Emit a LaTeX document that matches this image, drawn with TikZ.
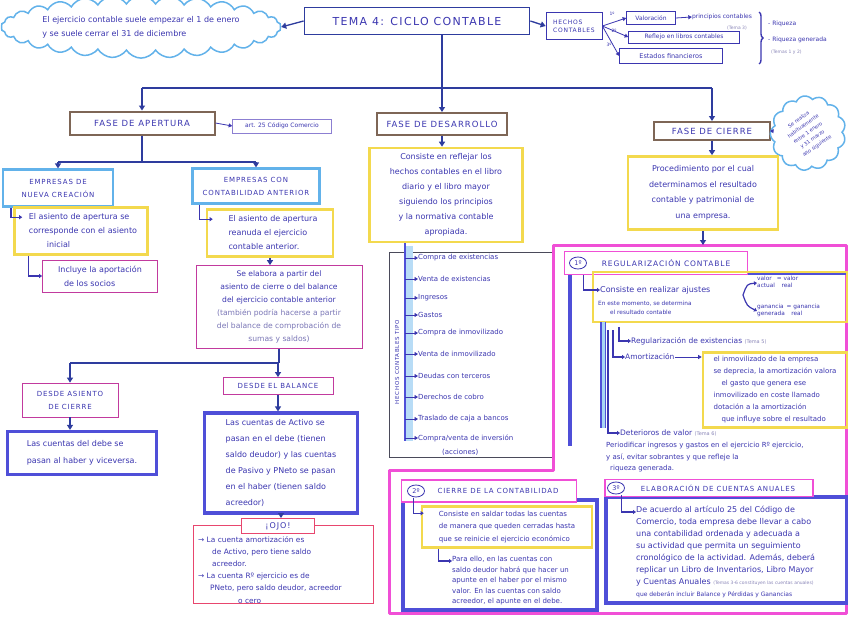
\documentclass[tikz,border=0pt]{standalone}
\usepackage{fontspec}
\setmainfont{DejaVu Sans}
\newfontfamily\capsfont[LetterSpace=12]{DejaVu Sans}
\usetikzlibrary{shapes.symbols,shapes.geometric,arrows.meta,calc,decorations.pathreplacing}
\definecolor{ink}{HTML}{3B36B0}
\definecolor{navy}{HTML}{2E3C9E}
\definecolor{bluem}{HTML}{4F4FD8}
\definecolor{cyanm}{HTML}{62B2EA}
\definecolor{yelm}{HTML}{F3D94E}
\definecolor{magm}{HTML}{F04FD6}
\definecolor{magt}{HTML}{C23A9E}
\definecolor{brownm}{HTML}{7E6656}
\definecolor{redm}{HTML}{E8466E}
\definecolor{lilac}{HTML}{8C7FD2}
\definecolor{greyink}{HTML}{8A86B8}
\definecolor{boxgrey}{HTML}{4A4A5A}
\newcommand{\myfs}[2]{\fontsize{#1}{#2}\selectfont}
\begin{document}
\begin{tikzpicture}[x=1pt,y={(0pt,-1pt)},
  sz/.style 2 args={minimum width=#1pt,minimum height=#2pt,inner sep=0pt},
  line/.style={draw=navy,line width=1.3pt},
  arr/.style={line,-{Triangle[length=5pt,width=6pt]}},
  tarr/.style={draw=ink,line width=0.8pt,-{Triangle[length=3.5pt,width=4pt]}},
  larr/.style={draw=ink,line width=1.3pt,-{Triangle[length=3pt,width=4pt]}},
  tx/.style={inner sep=0pt,text=ink,align=left},
  brownbox/.style={draw=brownm,line width=2pt,fill=white,text=ink,font=\capsfont\myfs{8.5}{10}},
  cyanbox/.style={draw=cyanm,line width=2.2pt,text=ink,font=\capsfont\myfs{7}{13},align=center},
  yelbox/.style={draw=yelm,line width=2.6pt,text=ink,font=\myfs{8}{14}},
  magbox/.style={draw=magt,line width=0.8pt,text=ink},
  bluebox/.style={draw=bluem,line width=3.2pt,text=ink},
  tabbox/.style={draw=magm,line width=1.6pt,fill=white,text=ink,font=\capsfont\myfs{7}{9}},
  num/.style={draw=ink,ellipse,line width=0.8pt,minimum width=17pt,minimum height=12pt,inner sep=0pt,font=\myfs{6.5}{7},text=ink}
]
\useasboundingbox (0,0) rectangle (848,616);
\fill[white] (0,0) rectangle (848,616);

% ---------- top ----------
\node[cloud, cloud puffs=30, cloud puff arc=115, aspect=6, draw=cyanm, line width=1.5pt,
      minimum width=276pt, minimum height=44pt, tx, font=\myfs{8}{14}] (cloudA) at (141,27)
  {El ejercicio contable suele empezar el 1 de enero\\y se suele cerrar el 31 de diciembre};
\node[draw=navy,line width=1.8pt,sz={225}{27},text=ink,font=\capsfont\myfs{11}{12}] (title) at (417,21) {TEMA 4: CICLO CONTABLE};
\node[draw=ink,line width=0.7pt,sz={56}{27},text=ink,align=left,font=\capsfont\myfs{6}{8}] (hechos) at (574,26) {HECHOS\\CONTABLES};
\node[draw=ink,line width=0.6pt,sz={49}{13},text=ink,font=\myfs{6}{7}] (val) at (651,18) {Valoración};
\node[draw=ink,line width=0.6pt,sz={111}{12},text=ink,font=\myfs{6}{7}] (refl) at (684,37) {Reflejo en libros contables};
\node[draw=ink,line width=0.6pt,sz={103}{15},text=ink,font=\myfs{6.5}{7}] (est) at (671,56) {Estados financieros};
\node[tx,font=\myfs{6}{7}] (prin) at (722,17) {principios contables};
\node[tx,text=greyink,font=\myfs{4.5}{5}] (tema3) at (737,28) {(Tema 3)};
\node[tx,anchor=west,font=\myfs{6}{7}] (riq) at (768,24) {- Riqueza};
\node[tx,anchor=west,font=\myfs{6}{7}] (riqg) at (768,40) {- Riqueza generada};
\node[tx,anchor=west,text=greyink,font=\myfs{4.5}{5}] (tema12) at (771,52) {(Temas 1 y 2)};
\node[tx,font=\myfs{4.5}{5}] (l1) at (612,14) {1º};
\node[tx,font=\myfs{4.5}{5}] (l2) at (614,31) {2º};
\node[tx,font=\myfs{4.5}{5}] (l3) at (609,45) {3º};
\draw[draw=ink,line width=1.4pt,decorate,decoration={brace,amplitude=4pt}] (759,12) -- (759,64);

\draw[arr] (title.west) -- (cloudA.east);
\draw[arr] (title.east) -- (hechos.west);
\draw[tarr] (hechos.east) -- (val.west);
\draw[tarr] (hechos.east) -- (refl.west);
\draw[tarr] (hechos.east) -- (est.west);
\draw[tarr] (val.east) -- (prin.west);

% ---------- phases ----------
\node[brownbox,sz={145}{23}] (apertura) at (142,123) {FASE DE APERTURA};
\node[draw=lilac,line width=0.6pt,sz={99}{14},text=ink,font=\myfs{6}{7}] (art) at (282,126) {art. 25 Código Comercio};
\node[brownbox,sz={130}{22}] (desarrollo) at (442,124) {FASE DE DESARROLLO};
\node[brownbox,sz={116}{18}] (cierre) at (712,131) {FASE DE CIERRE};
\node[cloud, cloud puffs=13, cloud puff arc=120, aspect=1, draw=cyanm, line width=1.5pt,
      minimum width=76pt, minimum height=74pt, inner sep=0pt, text=ink, align=center,
      font=\myfs{5}{8}, rotate=35] (cloudB) at (808,133)
  {Se realiza\\habitualmente\\entre 1 enero\\y 31 marzo\\año siguiente};

\coordinate (bus) at (0,88);
\draw[line] (title.south -| desarrollo.north) -- (desarrollo.north |- bus);
\draw[line] (apertura.north |- bus) -- (cierre.north |- bus);
\draw[arr] (apertura.north |- bus) -- (apertura.north);
\draw[arr] (desarrollo.north |- bus) -- (desarrollo.north);
\draw[arr] (cierre.north |- bus) -- (cierre.north);
\draw[tarr] (apertura.east) -- (art.west);
\draw[tarr] (cierre.east) -- (cloudB);

% ---------- apertura branch ----------
\node[cyanbox,sz={110}{37}] (nueva) at (58,188) {EMPRESAS DE\\NUEVA CREACIÓN};
\node[cyanbox,sz={127}{35}] (anterior) at (256,186) {EMPRESAS CON\\CONTABILIDAD ANTERIOR};
\coordinate (bus2) at (0,162);
\draw[line] (apertura.south) -- (apertura.south |- bus2);
\draw[line] (nueva.north |- bus2) -- (anterior.north |- bus2);
\draw[arr] (nueva.north |- bus2) -- (nueva.north);
\draw[arr] (anterior.north |- bus2) -- (anterior.north);

\node[yelbox,sz={133}{47},align=left] (y1) at (81,231) {\hspace{4pt}El asiento de apertura se\\\hspace{4pt}corresponde con el asiento\\\hspace{22pt}inicial};
\node[magbox,sz={115}{32},align=left,font=\myfs{8}{14}] (p1) at (100,276) {Incluye la aportación\\\hspace{6pt}de los socios};
\draw[larr] ([xshift=9pt]nueva.south west) |- ([xshift=9pt,yshift=-11pt]y1.north west);
\draw[larr] ([xshift=15pt]y1.south west) |- (p1.west);

\node[yelbox,sz={126}{47},align=left] (y2) at (270,233) {\hspace{6pt}El asiento de apertura\\\hspace{6pt}reanuda el ejercicio\\\hspace{6pt}contable anterior.};
\draw[larr] ([xshift=8pt]anterior.south west) |- ([xshift=7pt,yshift=-11pt]y2.north west);
\node[magbox,sz={166}{83},align=center,font=\myfs{7.6}{13}] (p2) at (279,307)
  {Se elabora a partir del\\asiento de cierre o del balance\\del ejercicio contable anterior\\
   \textcolor{greyink!80!ink}{(también podría hacerse a partir}\\\textcolor{greyink!80!ink}{del balance de comprobación de}\\\textcolor{greyink!80!ink}{sumas y saldos)}};
\draw[arr] (y2.south) -- (y2.south |- p2.north);

\node[magbox,sz={96}{34},align=center,font=\capsfont\myfs{7}{13}] (dcierre) at (70,400) {DESDE ASIENTO\\DE CIERRE};
\node[magbox,sz={110}{17},font=\capsfont\myfs{7}{9}] (dbal) at (278,386) {DESDE EL BALANCE};
\coordinate (bus3) at (0,363);
\draw[line] (p2.south) -- (p2.south |- bus3);
\draw[line] (dcierre.north |- bus3) -- (dbal.north |- bus3);
\draw[arr] (dcierre.north |- bus3) -- (dcierre.north);
\draw[arr] (dbal.north |- bus3) -- (dbal.north);

\node[bluebox,sz={149}{43},align=left,font=\myfs{8}{17}] (b1) at (82,453) {Las cuentas del debe se\\pasan al haber y viceversa.};
\draw[arr] (dcierre.south) -- (dcierre.south |- b1.north);
\node[bluebox,sz={153}{100},align=left,font=\myfs{8}{16}] (b2) at (281,463)
  {Las cuentas de Activo se\\pasan en el debe (tienen\\saldo deudor) y las cuentas\\de Pasivo y PNeto se pasan\\en el haber (tienen saldo\\acreedor)};
\draw[arr] (dbal.south) -- (dbal.south |- b2.north);

\node[draw=redm,line width=1pt,sz={180}{78}] (ojo) at (283,564) {};
\node[draw=redm,line width=1pt,fill=white,sz={73}{15},text=ink,font=\capsfont\myfs{8}{9}] (ojotab) at (278,526) {¡OJO!};
\draw[arr] (b2.south) -- (b2.south |- ojotab.north);
\node[tx,anchor=north west,font=\myfs{7.4}{12.2}] (ojotxt) at (198,536)
  {→ La cuenta amortización es\\\hspace{14pt}de Activo, pero tiene saldo\\\hspace{14pt}acreedor.\\
   → La cuenta Rº ejercicio es de\\\hspace{12pt}PNeto, pero saldo deudor, acreedor\\\hspace{40pt}o cero};

% ---------- desarrollo branch ----------
\node[yelbox,sz={153}{94},align=center,font=\myfs{8}{15}] (ydes) at (446,195)
  {Consiste en reflejar los\\hechos contables en el libro\\diario y el libro mayor\\siguiendo los principios\\y la normativa contable\\apropiada.};
\draw[arr] (desarrollo.south) -- (desarrollo.south |- ydes.north);
\node[draw=boxgrey,line width=0.9pt,sz={163}{205}] (tipo) at (471,355) {};
\coordinate (tl0) at (405,244);
\coordinate (tl1) at (405,441);
\fill[cyanm!45] (405,246) rectangle (413,441);
\draw[draw=bluem,line width=1.4pt] (ydes.south -| tl0) -- (tl1);
\node[tx,rotate=90,font=\capsfont\myfs{5.5}{6}] (tipolbl) at (397,362) {HECHOS CONTABLES TIPO};
\foreach \n/\yy/\t in {1/258/{Compra de existencias}, 2/279/{Venta de existencias}, 3/298/{Ingresos},
   4/315/{Gastos}, 5/333/{Compra de inmovilizado}, 6/354/{Venta de inmovilizado}, 7/376/{Deudas con terceros},
   8/397/{Derechos de cobro}, 9/419/{Traslado de caja a bancos}, 10/438/{Compra\slash venta de inversión}}{
  \node[tx,anchor=west,font=\myfs{7}{8}] (i\n) at (418,\yy) {\t};
  \draw[tarr] (tl0 |- i\n.west) -- (i\n.west);
}
\node[tx,anchor=west,font=\myfs{7}{8}] (acc) at (442,452) {(acciones)};

% ---------- cierre branch ----------
\node[yelbox,sz={150}{73},align=center,font=\myfs{8}{15.5}] (ycierre) at (703,193)
  {Procedimiento por el cual\\determinamos el resultado\\contable y patrimonial de\\una empresa.};
\draw[arr] (cierre.south) -- (cierre.south |- ycierre.north);
\draw[draw=magm,line width=3pt,line join=round] (553,245) -- (846.5,245) -- (846.5,613.5) -- (389,613.5) -- (389,470) -- (553,470) -- cycle;
\coordinate (pinktop) at (703,245);
\draw[arr] (ycierre.south) -- (ycierre.south |- pinktop);

% 1 regularizacion
\draw[draw=bluem,line width=3.2pt] (570,272) -- (570,446);
\draw[draw=bluem,line width=3.2pt] (746,273) -- (848,273);
\node[tabbox,sz={183}{23},font=\capsfont\myfs{7.5}{9}] (regtab) at (656,263) {\hspace{20pt}REGULARIZACIÓN CONTABLE};
\node[num] (n1) at (578,263) {1º};
\node[yelbox,sz={254}{50}] (yreg) at (720,297) {};
\node[tx,anchor=west,font=\myfs{8}{9}] (consiste) at (600,290) {Consiste en realizar ajustes};
\node[tx,anchor=north west,font=\myfs{5.8}{9}] (determina) at (598,301) {En este momento, se determina\\\hspace{12pt}el resultado contable};
\draw[larr] ([xshift=20pt]regtab.south west) |- (consiste.west);
\node[tx,anchor=west,font=\myfs{5.8}{7}] (va) at (757,283) {\begin{tabular}{@{}l@{\ }l@{}}valor & = valor\\actual & \ \ \,real\end{tabular}};
\node[tx,anchor=west,font=\myfs{5.8}{7}] (gg) at (757,311) {\begin{tabular}{@{}l@{\ }l@{}}ganancia & = ganancia\\generada & \ \ \,real\end{tabular}};
\coordinate (fork) at (743,295);
\draw[draw=ink,line width=1.2pt,-{Triangle[length=3pt,width=4pt]}] (fork) .. controls (747,284) .. (va.west);
\draw[draw=ink,line width=1.2pt,-{Triangle[length=3pt,width=4pt]}] (fork) .. controls (747,306) .. (gg.west);

\fill[cyanm!55] (601,322) rectangle (605,428);
\draw[draw=bluem,line width=1.4pt] (601,322) -- (601,428);
\draw[draw=bluem,line width=1.4pt] (605.5,322) -- (605.5,428);
\coordinate (ls1) at (619,327);
\coordinate (ls2) at (613,330);
\coordinate (ls3) at (608,330);
\node[tx,anchor=west,font=\myfs{7.5}{9}] (regex) at (631,341) {Regularización de existencias \textcolor{greyink}{\myfs{5}{6}(Tema 5)}};
\node[tx,anchor=west,font=\myfs{7.5}{9}] (amort) at (625,357) {Amortización};
\node[tx,anchor=west,font=\myfs{7.5}{9}] (deter) at (620,433) {Deterioros de valor \textcolor{greyink}{\myfs{5}{6}(Tema 6)}};
\draw[larr] (ls1) |- (regex.west);
\draw[larr] (ls2) |- (amort.west);
\draw[larr] (ls3) |- (deter.west);
\node[yelbox,sz={144}{75},align=left,font=\myfs{7}{12}] (yamort) at (775,390)
  {el inmovilizado de la empresa\\se deprecia, la amortización valora\\\hspace{8pt}el gasto que genera ese\\inmovilizado en coste llamado\\dotación a la amortización\\\hspace{8pt}que influye sobre el resultado};
\draw[tarr] (amort.east) -- (amort.east -| yamort.west);
\node[tx,anchor=north west,font=\myfs{7}{11.5}] (perio) at (606,442)
  {Periodificar ingresos y gastos en el ejercicio Rº ejercicio,\\y así, evitar sobrantes y que refleje la\\\hspace{4pt}riqueza generada.};

% 2 cierre de la contabilidad
\node[bluebox,sz={194}{110}] (bb2) at (500,555) {};
\node[tabbox,sz={175}{22}] (tab2) at (489,491) {\hspace{18pt}CIERRE DE LA CONTABILIDAD};
\node[num] (n2) at (416,491) {2º};
\node[yelbox,sz={170}{41},align=left,font=\myfs{7}{12.5}] (ycc) at (507,527)
  {Consiste en saldar todas las cuentas\\de manera que queden cerradas hasta\\que se reinicie el ejercicio económico};
\draw[larr] ([xshift=12pt]bb2.north west) |- ([xshift=3pt,yshift=-8pt]ycc.north west);
\node[tx,anchor=north west,font=\myfs{7}{10.5}] (para) at (452,556)
  {Para ello, en las cuentas con\\saldo deudor habrá que hacer un\\apunte en el haber por el mismo\\valor. En las cuentas con saldo\\acreedor, el apunte en el debe.};
\draw[larr] ([xshift=18pt]ycc.south west) |- ([yshift=-5pt]para.north west);

% 3 cuentas anuales
\node[bluebox,sz={241}{106}] (bb3) at (726.5,550) {};
\node[tabbox,sz={208}{17}] (tab3) at (709,488) {\hspace{18pt}ELABORACIÓN DE CUENTAS ANUALES};
\node[num] (n3) at (616,488) {3º};
\node[tx,anchor=north west,font=\myfs{8}{12}] (anu) at (636,506)
  {De acuerdo al artículo 25 del Código de\\Comercio, toda empresa debe llevar a cabo\\una contabilidad ordenada y adecuada a\\su actividad que permita un seguimiento\\cronológico de la actividad. Además, deberá\\replicar un Libro de Inventarios, Libro Mayor\\y Cuentas Anuales {\textcolor{greyink}{\myfs{4.5}{5}(Temas 3-6 constituyen las cuentas anuales)}}\\{\myfs{6}{7}que deberán incluir Balance y Pérdidas y Ganancias}};
\draw[larr] ([xshift=17pt]bb3.north west) |- ([yshift=-6pt]anu.north west);
\end{tikzpicture}
\end{document}
